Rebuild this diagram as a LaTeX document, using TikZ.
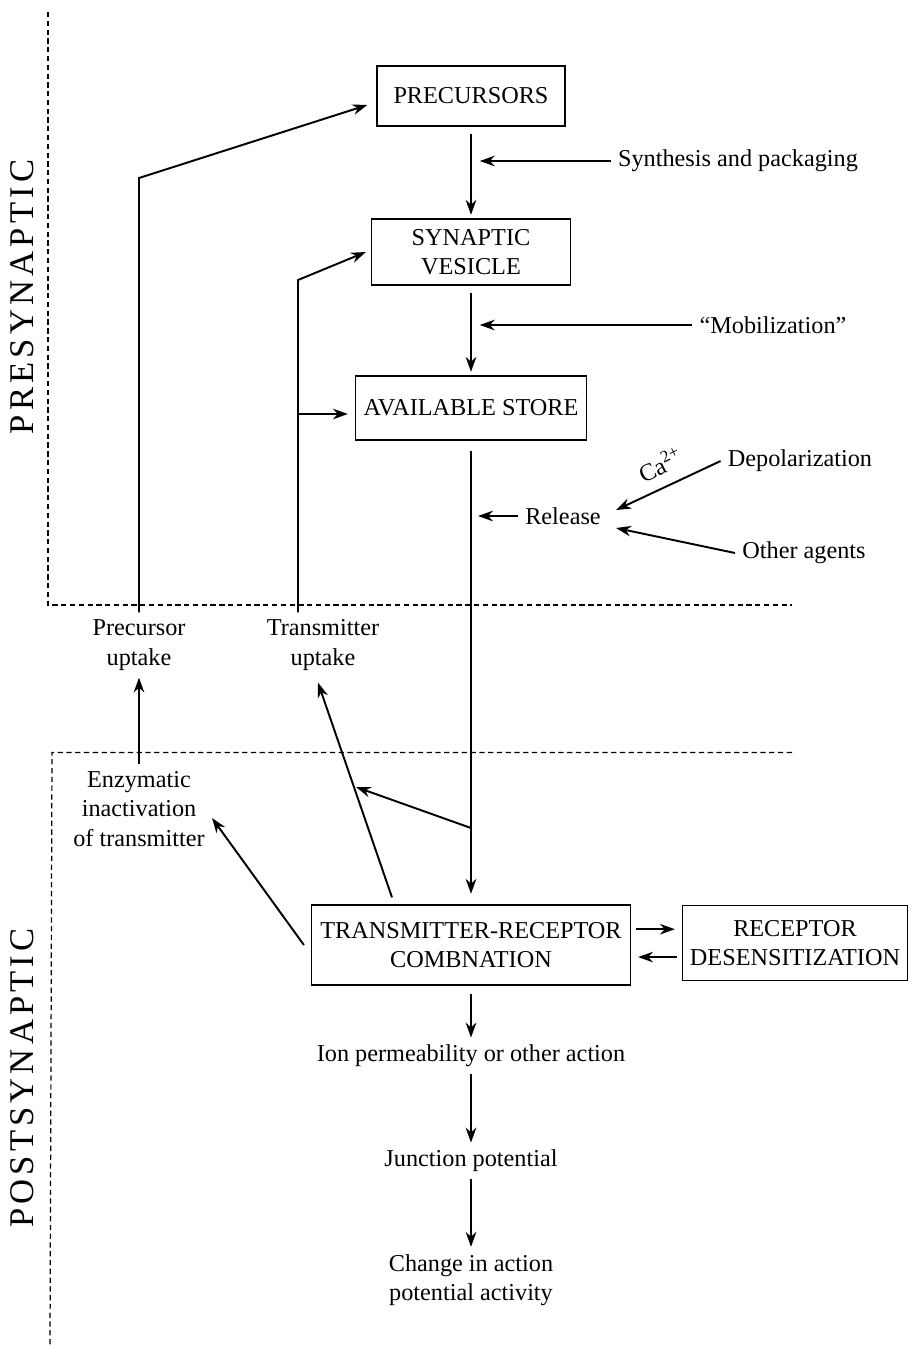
\documentclass[tikz,border=0pt]{standalone}
\usepackage{fontspec}
\setmainfont{Liberation Serif}
\usetikzlibrary{arrows.meta, positioning}

\begin{document}
\begin{tikzpicture}[
  x=0.02cm, y=-0.02cm,
  stage/.style={
    rectangle, draw, line width=0.7pt,
    align=center, inner sep=0pt,
    font=\fontsize{13.8}{16.7}\selectfont
  },
  note/.style={align=center, inner sep=4pt, font=\fontsize{13.8}{16.7}\selectfont},
  side/.style={rotate=90, inner sep=0pt,
    font=\fontsize{19.7}{22}\selectfont\addfontfeature{LetterSpace=12}},
  arr/.style={-{Stealth[length=8.5pt, width=6pt]}, line width=1.1pt},
  main/.style={arr, line width=1.5pt},
  bound/.style={line width=0.7pt, dash pattern=on 3pt off 2pt},
]

%% ════════════════════════════════════════════════
%% BOUNDARIES
%% ════════════════════════════════════════════════
\useasboundingbox (0,0) rectangle (912,1347);
\draw[bound] (48,12) -- (48,605) -- (792,605);
\draw[bound] (792,752.5) -- (52,752.5) -- (50,1347);

\node[side] (presyn)  at (22,297)  {PRESYNAPTIC};
\node[side] (postsyn) at (22,1078) {POSTSYNAPTIC};

%% ════════════════════════════════════════════════
%% MAIN COLUMN
%% ════════════════════════════════════════════════
\node[stage, minimum width=3.76cm, minimum height=1.2cm]  (prec)  at (471,96)  {PRECURSORS};
\node[stage, minimum width=3.98cm, minimum height=1.32cm] (syn)   at (471,252) {SYNAPTIC\\VESICLE};
\node[stage, minimum width=4.62cm, minimum height=1.28cm] (avail) at (471,408) {AVAILABLE STORE};
\node[stage, minimum width=6.38cm, minimum height=1.6cm]  (trc)   at (471,945) {TRANSMITTER-RECEPTOR\\COMBNATION};
\node[stage, minimum width=4.5cm, minimum height=1.5cm]   (rdes)  at (795,943) {RECEPTOR\\DESENSITIZATION};

\node[note] (ion)    at (471,1056) {Ion permeability or other action};
\node[note] (junc)   at (471,1161) {Junction potential};
\node[note] (change) at (471,1280) {Change in action\\potential activity};

%% side inputs
\node[note] (synth)   at (738,161) {Synthesis and packaging};
\node[note] (mobil)   at (773,325) {“Mobilization”};
\node[note] (release) at (563,516) {Release};
\node[note] (depol)   at (800,461) {Depolarization};
\node[note] (others)  at (804,553) {Other agents};
\node[note, rotate=26, inner sep=0pt] (ca) at (660,464) {Ca\textsuperscript{2+}};

%% uptake / inactivation
\node[note] (precup) at (139,645) {Precursor\\uptake};
\node[note] (trup)   at (323,645) {Transmitter\\uptake};
\node[note] (enz)    at (139,809) {Enzymatic\\inactivation\\of transmitter};

%% ════════════════════════════════════════════════
%% CONNECTIONS
%% ════════════════════════════════════════════════
\draw[main, shorten <=4pt, shorten >=2pt] (prec) -- (syn);
\draw[main, shorten <=4pt, shorten >=2pt] (syn) -- (avail);
\draw[main, shorten <=6pt, shorten >=6pt] (avail) -- (trc);
\draw[main, shorten <=5pt] (trc) -- (ion);
\draw[main] (ion) -- (junc);
\draw[main] (junc) -- (change);

\draw[arr, shorten >=5pt] (synth.west) -- (synth.west -| prec.south);
\draw[arr, shorten >=5pt] (mobil.west) -- (mobil.west -| syn.south);
\draw[arr, shorten >=4pt] (release.west) -- (release.west -| avail.south);
\draw[arr] (depol.west)  -- ([shift={(8,-6)}]release.east);
\draw[arr] (others.west) -- ([shift={(8,12)}]release.east);

%% uptake loops
\coordinate (kneeP) at (139,178);
\draw[arr] (precup.north) -- (kneeP) -- ([shift={(-9,9)}]prec.west);
\coordinate (kneeT) at (298,280);
\coordinate (tapT)  at (298,414);
\draw[arr] ([shift={(-25,0)}]trup.north) -- (kneeT) -- ([shift={(-5,0)}]syn.west);
\draw[arr, shorten >=4pt] (tapT) -- (tapT -| avail.west);

\draw[arr] (enz.north) -- (precup.south);
\draw[arr] ([shift={(-7,0)}]trc.west) -- ([shift={(0,9)}]enz.east);
\draw[arr] ([shift={(-79,-7)}]trc.north) -- ([shift={(-5,5)}]trup.south);
\coordinate (split) at (471,828);
\coordinate (hit)   at (356,787);
\draw[arr] (split) -- (hit);

%% desensitization loop
\draw[arr, shorten <=3pt, shorten >=4pt] ([yshift=9pt]trc.east) -- ([yshift=9pt]trc.east -| rdes.west);
\draw[arr, shorten <=3pt, shorten >=4pt] ([yshift=-8pt]rdes.west) -- ([yshift=-8pt]rdes.west -| trc.east);

\end{tikzpicture}
\end{document}
